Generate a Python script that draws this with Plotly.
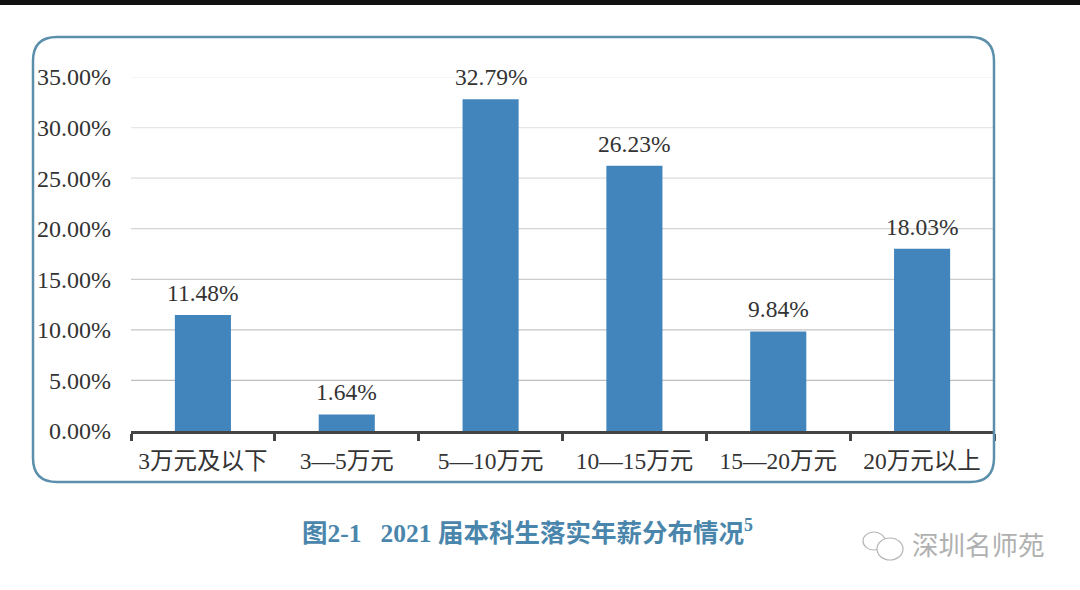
import plotly.graph_objects as go

categories = ["3万元及以下", "3—5万元", "5—10万元", "10—15万元", "15—20万元", "20万元以上"]
values = [11.48, 1.64, 32.79, 26.23, 9.84, 18.03]
y_ticks = [0, 5, 10, 15, 20, 25, 30, 35]
y_tick_labels = ["0.00%", "5.00%", "10.00%", "15.00%", "20.00%", "25.00%", "30.00%", "35.00%"]
value_labels = ["11.48%", "1.64%", "32.79%", "26.23%", "9.84%", "18.03%"]
caption = "图2-1   2021 届本科生落实年薪分布情况<sup>5</sup>"
watermark = "深圳名师苑"
grid_colors = ["#B8B8B8", "#BDBDBD", "#C4C4C4", "#CCCCCC", "#D4D4D4", "#DCDCDC", "#E6E6E6", "#EEEEEE"]

W, H = 1080, 590
L, R, T, B = 131, 86, 77, 159
FONT = "'Liberation Serif', 'Noto Sans CJK SC', serif"
CJK_BOLD = "'Liberation Serif', 'Noto Sans CJK SC', sans-serif"


def px(x):
    return (x - L) / (W - L - R)


def py(y):
    return 1 - (y - T) / (H - T - B)


def frame_path(x0, y0, x1, y1, r):
    a, b, c, d = px(x0), px(x1), py(y0), py(y1)
    ra, rb = r / (W - L - R), r / (H - T - B)
    return (
        f"M{a + ra},{c} L{b - ra},{c} Q{b},{c} {b},{c - rb} "
        f"L{b},{d + rb} Q{b},{d} {b - ra},{d} "
        f"L{a + ra},{d} Q{a},{d} {a},{d + rb} "
        f"L{a},{c - rb} Q{a},{c} {a + ra},{c} Z"
    )


fig = go.Figure(
    go.Bar(
        x=categories,
        y=values,
        width=0.39,
        marker=dict(color="#4285BD", line=dict(width=0)),
        cliponaxis=False,
        showlegend=False,
    )
)

value_annotations = [
    dict(text=t, x=c, y=v, xref="x", yref="y", yshift=22, xanchor="center", yanchor="middle",
         showarrow=False, font=dict(family=FONT, size=23.5, color="#333333"))
    for c, v, t in zip(categories, values, value_labels)
]

grid_shapes = [
    dict(type="line", xref="paper", yref="y", x0=0, x1=1, y0=t, y1=t, layer="below",
         line=dict(color=col, width=1.2))
    for t, col in zip(y_ticks[1:], grid_colors[1:])
]

fig.update_layout(
    width=W,
    height=H,
    margin=dict(l=L, r=R, t=T, b=B, pad=0),
    paper_bgcolor="white",
    plot_bgcolor="white",
    font=dict(family=FONT, color="#333333"),
    bargap=0.61,
    shapes=grid_shapes + [
        dict(type="rect", xref="paper", yref="paper", x0=px(0), x1=px(W), y0=py(0), y1=py(5),
             fillcolor="#111111", line=dict(width=0)),
        dict(type="path", xref="paper", yref="paper", path=frame_path(33, 37, 994, 482, 24),
             line=dict(color="#5B8FAB", width=2.5), fillcolor="rgba(0,0,0,0)"),
        # WeChat-style watermark icon
        dict(type="circle", xref="paper", yref="paper", x0=px(863), x1=px(885), y0=py(532), y1=py(550),
             line=dict(color="#B5B5B5", width=1.2), fillcolor="rgba(0,0,0,0)"),
        dict(type="circle", xref="paper", yref="paper", x0=px(877), x1=px(903), y0=py(538), y1=py(560),
             line=dict(color="#B5B5B5", width=1.2), fillcolor="white"),
    ],
    annotations=value_annotations + [
        dict(text=caption, xref="paper", yref="paper", x=px(527.5), y=py(531), xanchor="center", yanchor="middle",
             showarrow=False, font=dict(family=CJK_BOLD, size=25.5, color="#4A86AC", weight="bold")),
        dict(text=watermark, xref="paper", yref="paper", x=px(978.5), y=py(543), xanchor="center", yanchor="middle",
             showarrow=False, font=dict(family="'Noto Sans CJK SC', sans-serif", size=26.5, color="#B0B0B0")),
    ],
)

fig.update_xaxes(
    type="category",
    range=[-0.5, 5.5],
    tickson="boundaries",
    ticks="outside",
    ticklen=7,
    tickwidth=2.5,
    tickcolor="#444444",
    showline=True,
    linecolor="#444444",
    linewidth=2.5,
    showgrid=False,
    tickfont=dict(family=FONT, size=23.5, color="#333333"),
    ticklabelstandoff=7,
)
fig.update_yaxes(
    range=[0, 35],
    tickmode="array",
    tickvals=y_ticks,
    ticktext=y_tick_labels,
    showgrid=False,
    zeroline=False,
    showline=False,
    ticks="",
    tickfont=dict(family=FONT, size=24, color="#333333"),
    ticklabelstandoff=19,
)

fig.write_html("out.html", post_script="document.body.style.margin='0';",
               config={"displayModeBar": False})
